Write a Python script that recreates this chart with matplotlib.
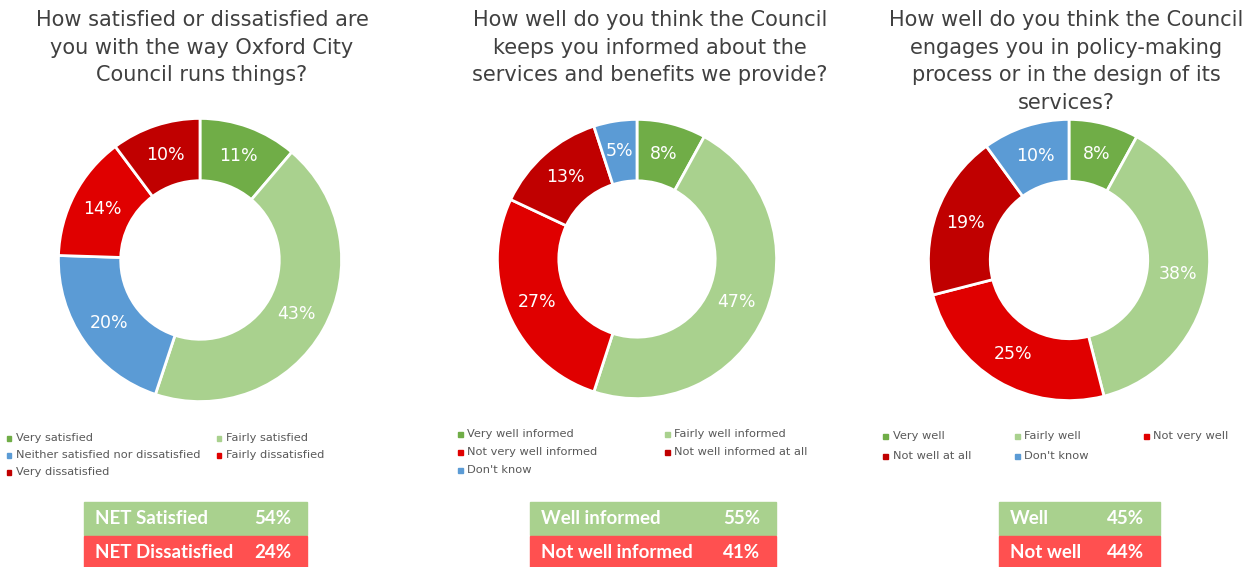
import numpy as np
import matplotlib.pyplot as plt
from matplotlib.patches import Rectangle

W, H = 1260, 567

# --- data ---
titles = [
    "How satisfied or dissatisfied are\nyou with the way Oxford City\nCouncil runs things?",
    "How well do you think the Council\nkeeps you informed about the\nservices and benefits we provide?",
    "How well do you think the Council\nengages you in policy-making\nprocess or in the design of its\nservices?",
]

cats_sat = ["Very satisfied", "Fairly satisfied", "Neither satisfied nor dissatisfied",
            "Fairly dissatisfied", "Very dissatisfied"]
vals_sat = [11, 43, 20, 14, 10]

cats_inf = ["Very well informed", "Fairly well informed", "Not very well informed",
            "Not well informed at all", "Don't know"]
vals_inf = [8, 47, 27, 13, 5]

cats_eng = ["Very well", "Fairly well", "Not very well", "Not well at all", "Don't know"]
vals_eng = [8, 38, 25, 19, 10]

net_labels = [["NET Satisfied", "NET Dissatisfied"],
              ["Well informed", "Not well informed"],
              ["Well", "Not well"]]
net_vals = [[54, 24], [55, 41], [45, 44]]

# --- colours ---
DKGREEN, LTGREEN, BLUE = "#70AD47", "#A9D18E", "#5B9BD5"
RED, DKRED = "#E00000", "#C00000"
col_sat = [DKGREEN, LTGREEN, BLUE, RED, DKRED]
col_inf = [DKGREEN, LTGREEN, RED, DKRED, BLUE]
col_eng = [DKGREEN, LTGREEN, RED, DKRED, BLUE]

plt.rcParams["font.family"] = "DejaVu Sans"

fig = plt.figure(figsize=(W / 100, H / 100), dpi=100)


def fx(x):
    return x / W


def fy(y):
    return 1 - y / H


def donut(cx, cy, r, vals, cols):
    ax = fig.add_axes([fx(cx - r), fy(cy + r), 2 * r / W, 2 * r / H])
    wedges, _ = ax.pie(vals, colors=cols, startangle=90, counterclock=False,
                       radius=1.0, wedgeprops=dict(width=0.44, edgecolor="white", linewidth=2))
    ax.set_xlim(-1.01, 1.01)
    ax.set_ylim(-1.01, 1.01)
    ax.set_aspect("equal")
    for w, v in zip(wedges, vals):
        ang = np.deg2rad((w.theta1 + w.theta2) / 2)
        ax.text(0.78 * np.cos(ang), 0.78 * np.sin(ang), f"{v}%", color="white",
                fontsize=12.5, ha="center", va="center")
    return ax


def legend(rows, cats, cols):
    # one small square + label per category
    for (x, y), c, col in zip(rows, cats, cols):
        fig.patches.append(Rectangle((fx(x - 2.5), fy(y + 2.5)), 5 / W, 5 / H,
                                     transform=fig.transFigure, color=col))
        fig.text(fx(x + 7), fy(y), c, fontsize=8.2, color="#595959", va="center", ha="left")


def net_box(x0, x1, labels, vals):
    boxes = [(502, 535, LTGREEN, 518), (536, 572, "#FF5050", 553)]
    for (ya, yb, col, ym), lab, v in zip(boxes, labels, vals):
        fig.patches.append(Rectangle((fx(x0), fy(yb)), (x1 - x0) / W, (yb - ya) / H,
                                     transform=fig.transFigure, color=col))
        fig.text(fx(x0 + 11), fy(ym), lab, fontsize=13.5, fontweight="bold", family="Lato",
                 color="white", ha="left", va="center")
        fig.text(fx(x1 - 16), fy(ym), f"{v}%", fontsize=13.5, fontweight="bold", family="Lato",
                 color="white", ha="right", va="center")


# titles
for tx, t in zip([202, 650, 1066], titles):
    fig.text(fx(tx), fy(10), t, fontsize=15, color="#404040", ha="center", va="top",
             linespacing=1.47)

donut(200, 260, 143, vals_sat, col_sat)
donut(637, 259, 141, vals_inf, col_inf)
donut(1069, 260, 142, vals_eng, col_eng)

legend([(9, 438), (219, 438), (9, 455), (219, 455), (9, 472)], cats_sat, col_sat)
legend([(460, 434), (667, 434), (460, 452), (667, 452), (460, 470)], cats_inf, col_inf)
legend([(886, 436), (1017, 436), (1146, 436), (886, 456), (1017, 456)], cats_eng, col_eng)

net_box(84, 307, net_labels[0], net_vals[0])
net_box(530, 776, net_labels[1], net_vals[1])
net_box(999, 1160, net_labels[2], net_vals[2])

fig.savefig("out.png", dpi=100, facecolor="white")
